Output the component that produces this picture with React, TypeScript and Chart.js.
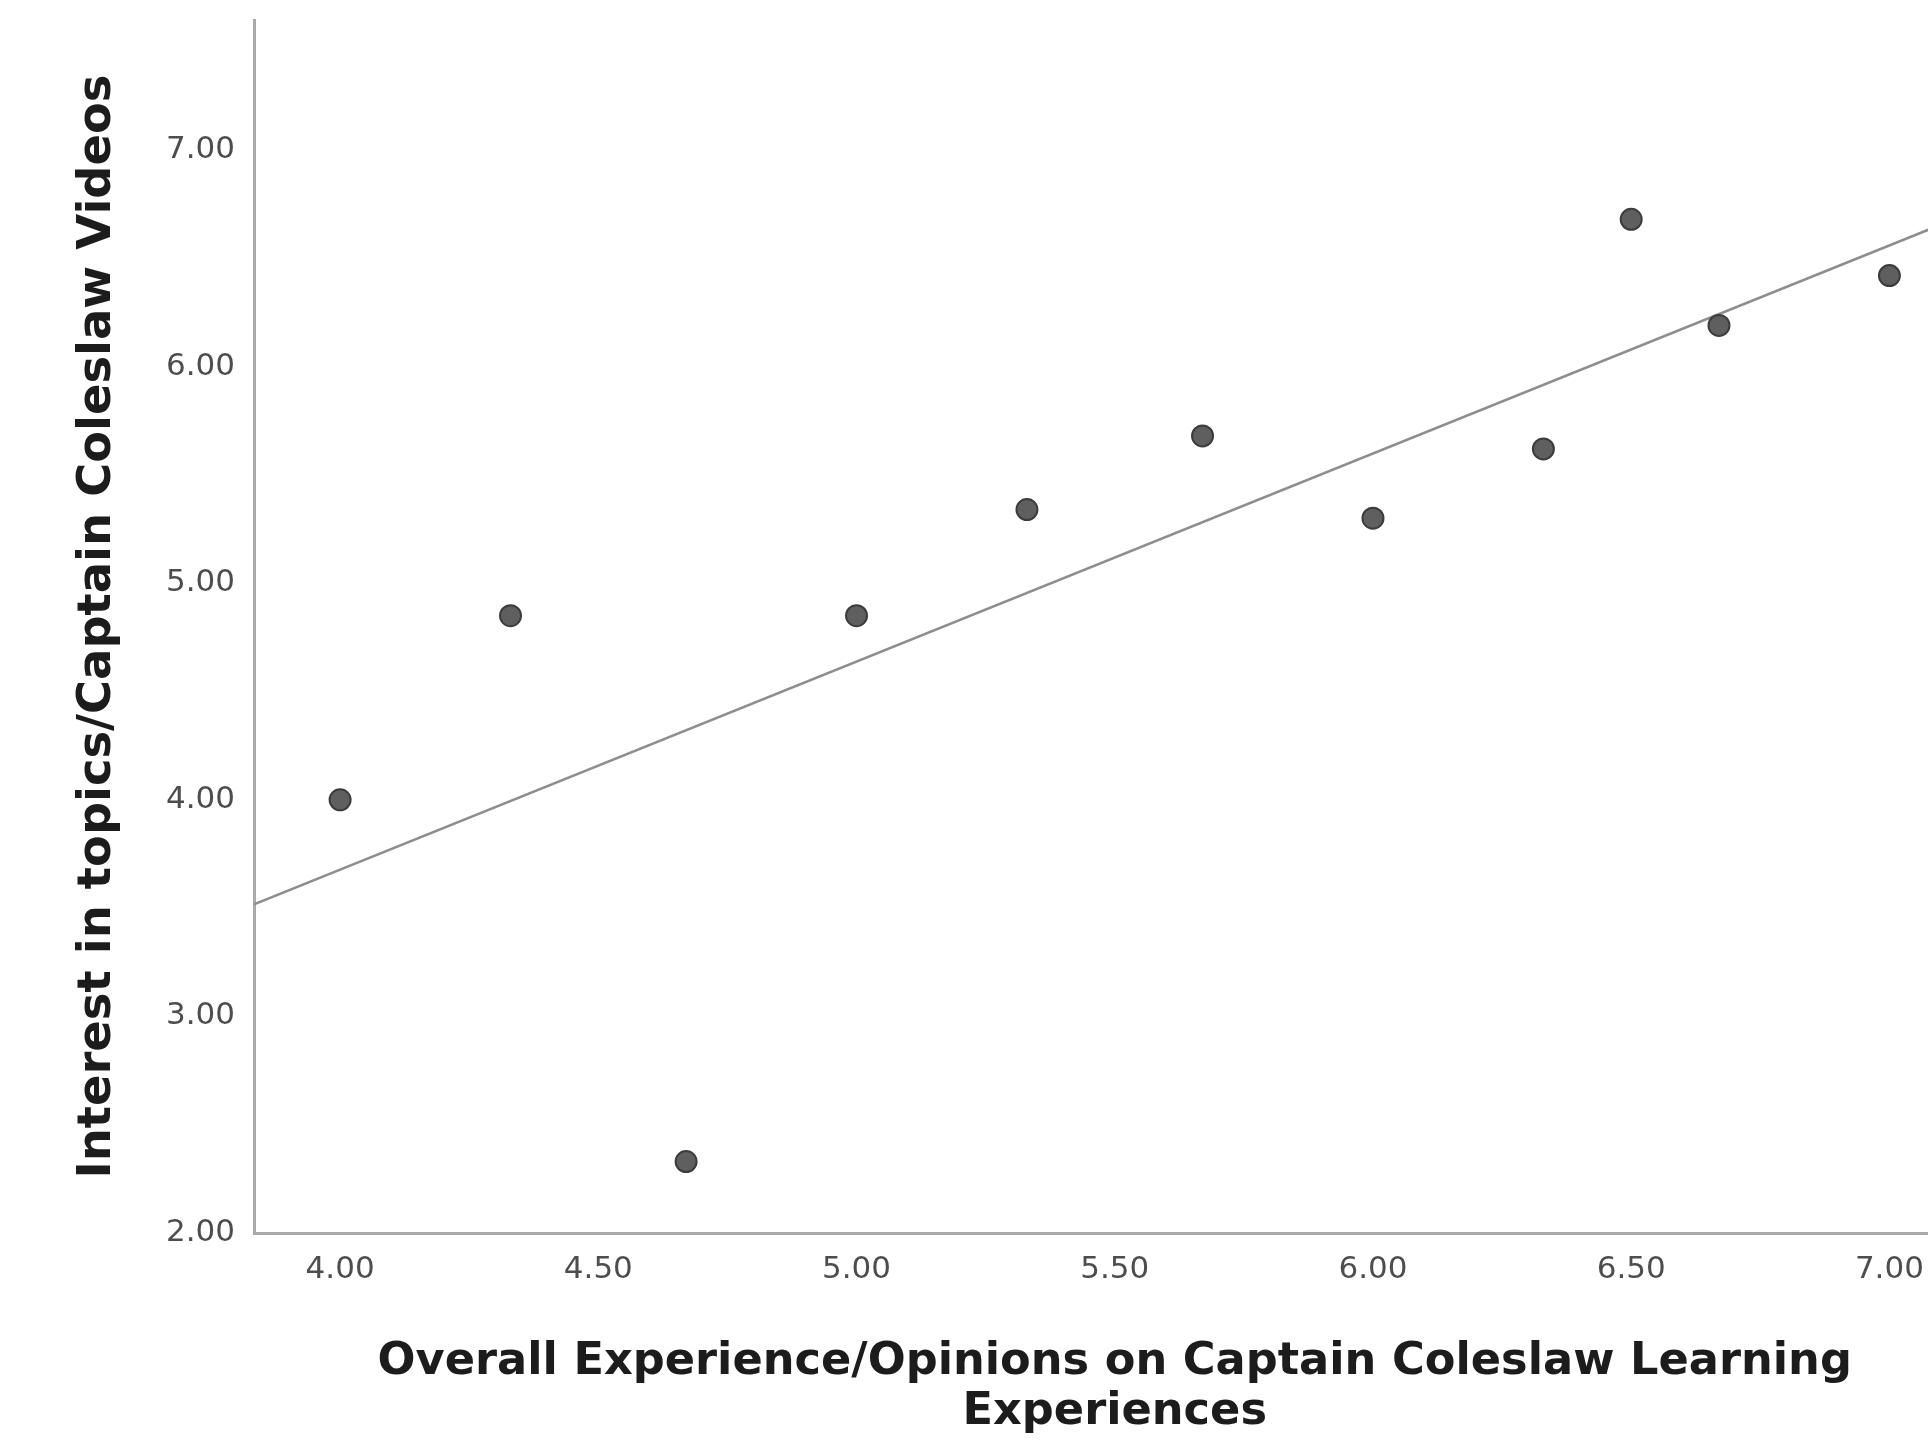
import React, { useEffect, useRef } from "react";
import { Chart, registerables } from "chart.js";

Chart.register(...registerables);

// Overall Experience/Opinions (x) vs Interest in topics (y)
const xValues = [4.0, 4.33, 4.67, 5.0, 5.33, 5.67, 6.0, 6.33, 6.5, 6.67, 7.0];
const yValues = [4.0, 4.85, 2.33, 4.85, 5.34, 5.68, 5.3, 5.62, 6.68, 6.19, 6.42];

const xTickValues = [4.0, 4.5, 5.0, 5.5, 6.0, 6.5, 7.0];
const yTickValues = [2.0, 3.0, 4.0, 5.0, 6.0, 7.0];

const xAxisRange = [3.8333, 7.1667];
const yAxisRange = [2.0, 7.6];

const xTitle = ["Overall Experience/Opinions on Captain Coleslaw Learning", "Experiences"];
const yTitle = "Interest in topics/Captain Coleslaw Videos";

function leastSquares(xs: number[], ys: number[]) {
  const n = xs.length;
  const mx = xs.reduce((a, b) => a + b, 0) / n;
  const my = ys.reduce((a, b) => a + b, 0) / n;
  let sxy = 0;
  let sxx = 0;
  for (let i = 0; i < n; i++) {
    sxy += (xs[i] - mx) * (ys[i] - my);
    sxx += (xs[i] - mx) * (xs[i] - mx);
  }
  const slope = sxy / sxx;
  const intercept = my - slope * mx;
  return { slope, intercept };
}

const CANVAS_W = 1988;
const CANVAS_H = 1446;

export default function App() {
  const canvasRef = useRef<HTMLCanvasElement | null>(null);

  useEffect(() => {
    if (!canvasRef.current) return;
    const { slope, intercept } = leastSquares(xValues, yValues);
    const fit = xAxisRange.map((x) => ({ x, y: intercept + slope * x }));
    const points = xValues.map((x, i) => ({ x, y: yValues[i] }));

    const tickFont = { family: "'DejaVu Sans', sans-serif", size: 31 };
    const xTitleFont = { family: "'DejaVu Sans', sans-serif", size: 44.7, weight: "bold" as const, lineHeight: 1.12 };
    const yTitleFont = { family: "'DejaVu Sans', sans-serif", size: 46.4, weight: "bold" as const, lineHeight: 1.2 };

    const chart = new Chart(canvasRef.current, {
      type: "scatter",
      data: {
        datasets: [
          {
            type: "scatter",
            label: "Observed",
            data: points,
            pointRadius: 10.5,
            pointBackgroundColor: "#5f5f5f",
            pointBorderColor: "#3c3c3c",
            pointBorderWidth: 2,
            order: 1,
          },
          {
            type: "line",
            label: "Fit",
            data: fit,
            borderColor: "#8e8e8e",
            borderWidth: 2.5,
            pointRadius: 0,
            fill: false,
            tension: 0,
            order: 2,
          } as any,
        ],
      },
      options: {
        animation: false,
        responsive: false,
        devicePixelRatio: 1,
        layout: { padding: { top: 20, left: 0, right: 0, bottom: 0 } },
        plugins: {
          legend: { display: false },
          tooltip: { enabled: false },
        },
        scales: {
          x: {
            type: "linear",
            min: xAxisRange[0],
            max: xAxisRange[1],
            afterBuildTicks: (s: any) => {
              s.ticks = xTickValues.map((v) => ({ value: v }));
            },
            afterFit: (s: any) => {
              s.height = 213;
              s.paddingLeft = 0;
              s.paddingRight = 0;
            },
            grid: { display: false, drawTicks: false },
            border: { display: true, color: "#a9a9a9", width: 3 },
            ticks: {
              autoSkip: false,
              maxRotation: 0,
              padding: 18,
              color: "#4d4d4d",
              font: tickFont,
              callback: (v: any) => Number(v).toFixed(2),
            },
            title: {
              display: true,
              text: xTitle,
              color: "#1c1c1c",
              font: xTitleFont,
              padding: { top: 0, bottom: 9 },
            },
          },
          y: {
            type: "linear",
            min: yAxisRange[0],
            max: yAxisRange[1],
            afterBuildTicks: (s: any) => {
              s.ticks = yTickValues.map((v) => ({ value: v }));
            },
            afterFit: (s: any) => {
              s.width = 254;
              s.paddingTop = 0;
              s.paddingBottom = 0;
            },
            grid: { display: false, drawTicks: false },
            border: { display: true, color: "#a9a9a9", width: 3 },
            ticks: {
              autoSkip: false,
              padding: 19,
              color: "#4d4d4d",
              font: tickFont,
              callback: (v: any) => Number(v).toFixed(2),
            },
            title: {
              display: true,
              text: yTitle,
              color: "#1c1c1c",
              font: yTitleFont,
              padding: { top: 70, bottom: 0 },
            },
          },
        },
      },
    });
    return () => chart.destroy();
  }, []);

  return (
    <div
      style={{
        position: "fixed",
        left: 0,
        top: 0,
        width: 1928,
        height: 1446,
        overflow: "hidden",
        background: "#ffffff",
      }}
    >
      <canvas
        ref={canvasRef}
        width={CANVAS_W}
        height={CANVAS_H}
        style={{ display: "block", width: CANVAS_W, height: CANVAS_H }}
      />
    </div>
  );
}
